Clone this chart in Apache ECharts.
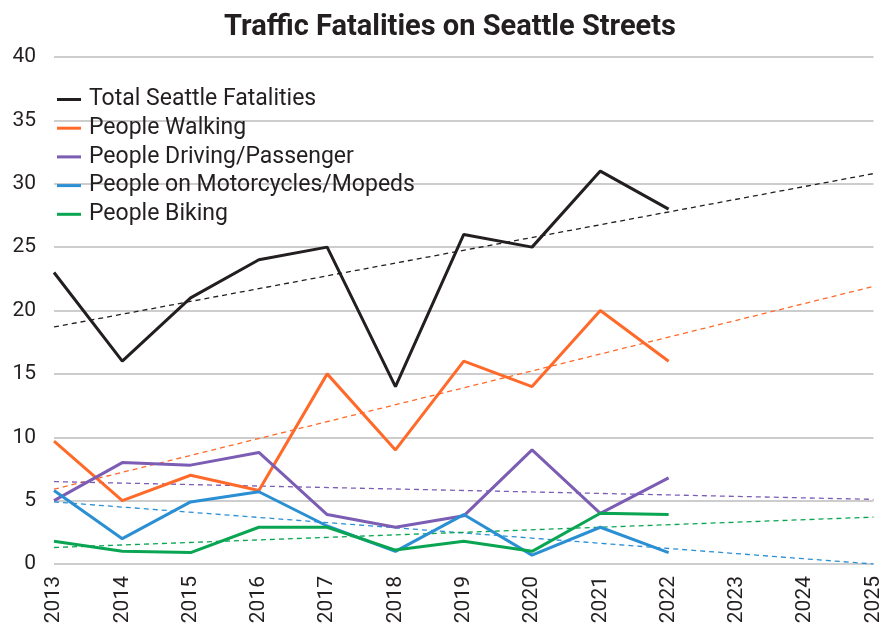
<!DOCTYPE html>
<html>
<head>
<meta charset="utf-8">
<script src="https://cdn.jsdelivr.net/npm/echarts@6/dist/echarts.min.js"></script>
<style>
  html, body { margin: 0; padding: 0; background: #fff; }
  #chart { width: 884px; height: 627px; }
</style>
</head>
<body>
<div id="chart"></div>
<script>
// years on the x axis (trend lines run on to 2025)
const years = ['2013', '2014', '2015', '2016', '2017', '2018', '2019', '2020', '2021', '2022', '2023', '2024', '2025'];

const total      = [23, 16, 21, 24, 25, 14, 26, 25, 31, 28];
const walking    = [9.7, 5, 7, 5.8, 15, 9, 16, 14, 20, 16];
const driving    = [5, 8, 7.8, 8.8, 3.9, 2.9, 3.8, 9, 4, 6.8];
const motorcycle = [5.8, 2, 4.9, 5.7, 3, 1, 3.9, 0.7, 2.9, 0.9];
const biking     = [1.8, 1, 0.9, 2.9, 2.9, 1.1, 1.8, 1, 4, 3.9];

// dashed trend lines: value at 2013 and at 2025
const trendTotal      = [18.7, 30.8];
const trendWalking    = [5.9, 21.9];
const trendDriving    = [6.5, 5.1];
const trendMotorcycle = [4.9, 0];
const trendBiking     = [1.3, 3.7];

const names = ['Total Seattle Fatalities', 'People Walking', 'People Driving/Passenger',
  'People on Motorcycles/Mopeds', 'People Biking'];
const colors = ['#231f20', '#ff6a2a', '#7c5db4', '#2b8fd4', '#0aa552'];

const chart = echarts.init(document.getElementById('chart'));

function lineSeries(name, data, color) {
  return {
    name: name,
    type: 'line',
    data: data,
    symbol: 'none',
    lineStyle: { color: color, width: 3 },
    itemStyle: { color: color },
    z: 3
  };
}

function trendSeries(ends, color) {
  // only the two ends, joined across the empty years
  let d = years.map(() => null);
  d[0] = ends[0];
  d[years.length - 1] = ends[1];
  return {
    type: 'line',
    data: d,
    connectNulls: true,
    symbol: 'none',
    silent: true,
    lineStyle: { color: color, width: 1.3, type: [5, 4] },
    z: 2
  };
}

let option = {
  backgroundColor: '#ffffff',
  animation: false,
  textStyle: { fontFamily: 'Roboto' },
  title: {
    text: 'Traffic Fatalities on Seattle Streets',
    left: 219,
    top: 8,
    textStyle: { fontSize: 29, fontWeight: 'bold', color: '#231f20', fontFamily: 'Roboto' }
  },
  legend: {
    data: names,
    orient: 'vertical',
    left: 52,
    top: 83,
    itemWidth: 24,
    itemHeight: 3,
    itemGap: 5.7,
    icon: 'rect',
    textStyle: { fontSize: 23, lineHeight: 23, color: '#231f20', padding: [0, 0, 0, 3] }
  },
  grid: { left: 54, right: 1, top: 57, bottom: 63 },
  xAxis: {
    type: 'category',
    data: years,
    boundaryGap: false,
    axisLine: { show: false },
    axisTick: { show: false },
    axisLabel: { rotate: 90, fontSize: 21, color: '#231f20', margin: 12, interval: 0 }
  },
  yAxis: {
    type: 'value',
    min: 0,
    max: 40,
    interval: 5,
    axisLine: { show: false },
    axisTick: { show: false },
    axisLabel: { fontSize: 21, color: '#231f20', margin: 18 },
    splitLine: { lineStyle: { color: '#bdbdbd', width: 1.5 } }
  },
  series: [
    trendSeries(trendTotal, colors[0]),
    trendSeries(trendWalking, colors[1]),
    trendSeries(trendDriving, colors[2]),
    trendSeries(trendMotorcycle, colors[3]),
    trendSeries(trendBiking, colors[4]),
    lineSeries(names[0], total, colors[0]),
    lineSeries(names[1], walking, colors[1]),
    lineSeries(names[2], driving, colors[2]),
    lineSeries(names[3], motorcycle, colors[3]),
    lineSeries(names[4], biking, colors[4])
  ]
};

chart.setOption(option);
</script>
</body>
</html>
